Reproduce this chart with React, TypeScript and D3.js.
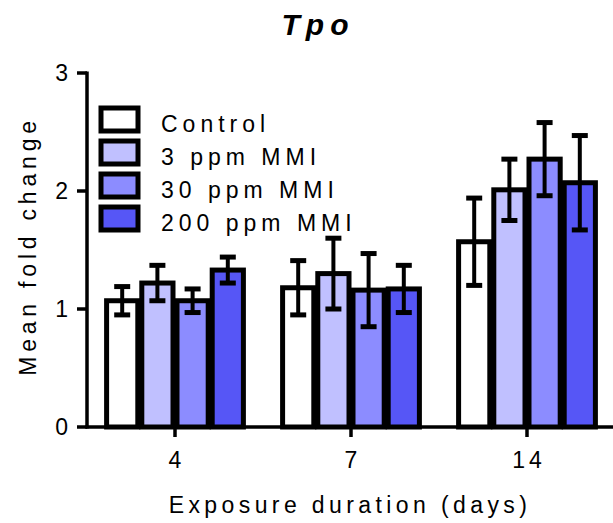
import * as d3 from 'd3'

const groups = ['4', '7', '14']
const series = ['Control', '3 ppm MMI', '30 ppm MMI', '200 ppm MMI']
const colors = ['#ffffff', '#c0c0ff', '#8c8cff', '#5656f6']
// mean fold change per group, one array per series
const means = [
  [1.07, 1.18, 1.57],
  [1.22, 1.3, 2.01],
  [1.07, 1.16, 2.27],
  [1.33, 1.17, 2.07],
]
const errs = [
  [0.12, 0.23, 0.37],
  [0.15, 0.3, 0.26],
  [0.1, 0.31, 0.31],
  [0.11, 0.2, 0.4],
]
const yTicks = [0, 1, 2, 3]

const W = 613
const H = 523
const font = '"Liberation Sans", Arial, sans-serif'

export default function App() {
  const x0 = d3.scaleBand().domain(groups).range([87, 615]).padding(0)
  const x1 = d3.scaleBand().domain(series).range([0, x0.bandwidth()]).paddingInner(0).paddingOuter(0.5)
  const y = d3.scaleLinear().domain([0, 3]).range([427, 73])
  const capW = 16

  return (
    <div style={{ position: 'absolute', left: 0, top: 0 }}>
      <svg width={W} height={H} style={{ display: 'block', background: '#fff' }} fontFamily={font}>
        <text x={318} y={35} textAnchor="middle" fontSize={30} fontWeight="bold" fontStyle="italic" letterSpacing={6}>
          Tpo
        </text>

        {groups.map((g, gi) => (
          <g key={g} transform={`translate(${x0(g)},0)`}>
            {series.map((s, si) => {
              const v = means[si][gi]
              const e = errs[si][gi]
              const bx = x1(s)!
              const bw = x1.bandwidth()
              const cx = bx + bw / 2
              return (
                <g key={s}>
                  <rect x={bx + 2} y={y(v)} width={bw - 4} height={y(0) - y(v)} fill={colors[si]} stroke="#000" strokeWidth={5} />
                  <line x1={cx} x2={cx} y1={y(v + e)} y2={y(v - e)} stroke="#000" strokeWidth={4} />
                  <line x1={cx - capW / 2} x2={cx + capW / 2} y1={y(v + e)} y2={y(v + e)} stroke="#000" strokeWidth={5} />
                  <line x1={cx - capW / 2} x2={cx + capW / 2} y1={y(v - e)} y2={y(v - e)} stroke="#000" strokeWidth={5} />
                </g>
              )
            })}
          </g>
        ))}

        {/* y axis */}
        <line x1={87} x2={87} y1={y(3) - 1.5} y2={y(0) + 1.5} stroke="#000" strokeWidth={3.5} />
        {yTicks.map((t) => (
          <g key={t}>
            <line x1={77} x2={87} y1={y(t)} y2={y(t)} stroke="#000" strokeWidth={3.5} />
            <text x={68} y={y(t) + 8} textAnchor="end" fontSize={23}>
              {t}
            </text>
          </g>
        ))}
        <text transform={`translate(36,246) rotate(-90)`} textAnchor="middle" fontSize={23} letterSpacing={4.8}>
          Mean fold change
        </text>

        {/* x axis */}
        <line x1={85.5} x2={613} y1={y(0)} y2={y(0)} stroke="#000" strokeWidth={3.5} />
        {groups.map((g) => {
          const cx = x0(g)! + x0.bandwidth() / 2
          return (
            <g key={g}>
              <line x1={cx} x2={cx} y1={y(0)} y2={y(0) + 10} stroke="#000" strokeWidth={3.5} />
              <text x={cx + 2} y={468} textAnchor="middle" fontSize={23} letterSpacing={4}>
                {g}
              </text>
            </g>
          )
        })}
        <text x={350} y={513} textAnchor="middle" fontSize={23} letterSpacing={4.4}>
          Exposure duration (days)
        </text>

        {/* legend */}
        {series.map((s, si) => (
          <g key={s} transform={`translate(101,${108 + si * 33})`}>
            <rect x={0} y={0} width={37} height={23} fill={colors[si]} stroke="#000" strokeWidth={5} />
            <text x={60} y={23.5} fontSize={23} letterSpacing={5}>
              {s}
            </text>
          </g>
        ))}
      </svg>
    </div>
  )
}
